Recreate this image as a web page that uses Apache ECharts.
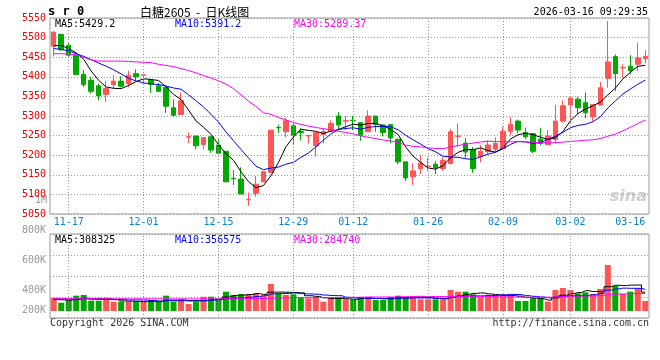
<!DOCTYPE html>
<html><head><meta charset="utf-8">
<script src="https://cdn.jsdelivr.net/npm/echarts@6/dist/echarts.min.js"></script>
<style>html,body{margin:0;padding:0;background:#fff}#c{width:660px;height:360px}</style>
</head><body><div id="c"></div>
<script>
const dates = ['11-13','11-14','11-17','11-18','11-19','11-20','11-21','11-24','11-25','11-26','11-27','11-28',
'12-01','12-02','12-03','12-04','12-05','12-08','12-09','12-10','12-11','12-12','12-15','12-16','12-17','12-18','12-19',
'12-22','12-23','12-24','12-25','12-26','12-29','12-30','12-31','01-05','01-06','01-07','01-08','01-09',
'01-12','01-13','01-14','01-15','01-16','01-19','01-20','01-21','01-22','01-23','01-26','01-27','01-28','01-29','01-30',
'02-02','02-03','02-04','02-05','02-06','02-09','02-10','02-11','02-12','02-13','02-24','02-25','02-26','02-27',
'03-02','03-03','03-04','03-05','03-06','03-09','03-10','03-11','03-12','03-13','03-16'];
const opens  = [5478,5508,5480,5455,5406,5391,5377,5355,5380,5389,5383,5408,5404,5391,5377,5373,5321,5304,5246,5249,
5227,5247,5226,5210,5141,5139,5086,5103,5132,5156,5271,5260,5275,5261,5249,5224,5253,5261,5300,5287,
5289,5283,5260,5300,5277,5278,5241,5183,5145,5166,5171,5177,5166,5179,5248,5231,5214,5196,5209,5215,
5217,5261,5287,5258,5255,5241,5227,5240,5287,5328,5343,5334,5298,5328,5396,5452,5423,5427,5432,5446];
const closes = [5514,5469,5455,5406,5380,5363,5351,5370,5389,5376,5404,5400,5405,5381,5363,5325,5302,5339,5247,5224,
5245,5213,5205,5132,5140,5101,5087,5126,5158,5264,5270,5288,5251,5258,5250,5258,5260,5281,5277,5288,
5288,5251,5300,5278,5258,5244,5183,5142,5160,5180,5172,5168,5187,5260,5249,5208,5166,5210,5226,5230,
5261,5279,5264,5247,5210,5230,5249,5287,5326,5346,5321,5308,5329,5372,5438,5408,5424,5415,5448,5452];
const lows   = [5452,5466,5451,5404,5374,5357,5340,5336,5370,5373,5374,5391,5383,5359,5362,5308,5300,5304,5231,5215,
5215,5206,5205,5132,5124,5101,5071,5094,5132,5156,5257,5245,5226,5238,5230,5197,5230,5261,5264,5264,
5264,5237,5260,5260,5248,5230,5177,5134,5124,5152,5160,5152,5160,5176,5221,5193,5155,5182,5202,5209,
5217,5251,5256,5241,5205,5225,5227,5230,5283,5283,5304,5294,5287,5328,5372,5363,5397,5406,5414,5434];
const highs  = [5516,5510,5486,5458,5418,5400,5383,5389,5404,5401,5415,5419,5407,5395,5385,5376,5343,5360,5258,5249,
5245,5247,5240,5210,5162,5169,5105,5147,5158,5264,5278,5296,5282,5270,5252,5258,5268,5289,5310,5300,
5300,5283,5314,5300,5277,5278,5241,5183,5179,5200,5194,5185,5195,5266,5281,5244,5221,5226,5238,5245,
5273,5298,5291,5270,5255,5270,5264,5329,5340,5346,5349,5360,5329,5387,5542,5457,5432,5455,5487,5468];
const volumes = [220000,137000,182000,253000,264000,170000,170000,182000,154000,154000,154000,154000,154000,182000,154000,
253000,154000,182000,115000,154000,236000,236000,209000,319000,264000,281000,281000,291000,253000,446000,
291000,264000,275000,220000,209000,236000,154000,209000,220000,193000,193000,231000,231000,182000,182000,
231000,253000,231000,231000,193000,193000,193000,193000,347000,319000,319000,275000,231000,264000,264000,
264000,264000,165000,165000,209000,209000,154000,347000,380000,347000,291000,308000,281000,363000,759000,
413000,281000,319000,374000,165000];
// moving-average values before enough history is on screen
const ma5Head  = [5479,5480,5472,5461];
const ma10Head = [5472,5470,5466,5459,5452,5444,5435,5427,5418];
const ma30Head = [5459,5459,5458,5456,5450,5443,5440,5440,5440,5440,5439,5438,5437,5436,5432,5429,5426,5421,5416,5410,
5403,5397,5390,5381,5370,5354,5338,5325,5308];
const vma5Head  = [190000,185000,180000,195000];
const vma10Head = [205000,200000,195000,195000,200000,195000,190000,190000,190000];
const vma30Head = [205000,205000,204000,204000,203000,203000,203000,202000,202000,202000,201000,201000,201000,201000,201000,
200000,200000,200000,200000,200000,201000,201000,202000,203000,204000,205000,206000,207000,208000];
const labelDates = ['11-17','12-01','12-15','12-29','01-12','01-26','02-09','03-02','03-16'];
const gridDates  = ['11-17','12-01','12-15','12-29','01-12','01-26','02-09','03-02'];
const priceMin = 5050, priceMax = 5550, priceStep = 50;
const volTicks = [200000,400000,600000,800000];
const priceLegend = [['MA5:5429.2','#000000'],['MA10:5391.2','#0000ff'],['MA30:5289.37','#ff00ff']];
const volLegend   = [['MA5:308325','#000000'],['MA10:356575','#0000ff'],['MA30:284740','#ff00ff']];

const UP = '#ff5555', DOWN = '#00a800';
const MONO = '"DejaVu Sans Mono", "Liberation Mono", monospace';

function movingAvg(vals, n, head) {
  return vals.map((v, i) => {
    if (i < n - 1) return head[i];
    let s = 0; for (let k = i - n + 1; k <= i; k++) s += vals[k];
    return +(s / n).toFixed(2);
  });
}
const kData = dates.map((d, i) => [opens[i], closes[i], lows[i], highs[i]]);
const isUp = closes.map((c, i) => c > opens[i] || (c === opens[i] && (i === 0 || closes[i-1] <= c)));
const volData = volumes.map((v, i) => ({value: v, itemStyle: {color: isUp[i] ? UP : DOWN}}));
const labelSet = new Set(labelDates.map(d => dates.indexOf(d)));

const dotted = {color: '#999', width: 1, type: [1, 2]};
const vLines = gridDates.map(d => ({xAxis: d}));
const mkLine = {silent: true, symbol: 'none', label: {show: false}, lineStyle: dotted, data: vLines, animation: false};

const graphics = [];
graphics.push({type:'text', x:48, y:12, style:{text:'s r 0', font:'bold 12px ' + MONO, fill:'#000', textVerticalAlign:'middle'}});
graphics.push({type:'text', x:140, y:12, style:{text:'白糖2605  -  日K线图', font:'12px "Noto Sans CJK SC"', fill:'#000', textVerticalAlign:'middle'}});
graphics.push({type:'text', x:648, y:12, style:{text:'2026-03-16 09:29:35', font:'10px ' + MONO, fill:'#000', textAlign:'right', textVerticalAlign:'middle'}});
const legX = [55, 175, 294];
priceLegend.forEach((l, i) => graphics.push({type:'text', x:legX[i], y:24, style:{text:l[0], font:'10px ' + MONO, fill:l[1], textVerticalAlign:'middle'}}));
volLegend.forEach((l, i) => graphics.push({type:'text', x:legX[i], y:240, style:{text:l[0], font:'10px ' + MONO, fill:l[1], textVerticalAlign:'middle'}}));
graphics.push({type:'text', x:47, y:200, style:{text:'1M', font:'10px ' + MONO, fill:'#999', textAlign:'right', textVerticalAlign:'middle'}});
graphics.push({type:'text', x:50, y:323, style:{text:'Copyright 2026 SINA.COM', font:'10px ' + MONO, fill:'#333', textVerticalAlign:'middle'}});
graphics.push({type:'text', x:649, y:323, style:{text:'http://finance.sina.com.cn', font:'10px ' + MONO, fill:'#333', textAlign:'right', textVerticalAlign:'middle'}});
graphics.push({type:'text', x:647, y:197, style:{text:'sina', font:'italic bold 16px "DejaVu Sans"', fill:'#cfcfcf', textAlign:'right', textVerticalAlign:'middle'}});

const chart = echarts.init(document.getElementById('c'), null, {renderer: 'canvas'});
chart.setOption({
  animation: false,
  backgroundColor: '#fff',
  grid: [
    {left: 50, right: 11, top: 18, height: 196, show: true, borderColor: '#999', borderWidth: 1},
    {left: 50, right: 11, top: 234, height: 84, show: true, borderColor: '#999', borderWidth: 1},
    {left: 50, right: 11, top: 230.7, height: 90, show: false}
  ],
  xAxis: [
    {type:'category', gridIndex:0, data:dates, boundaryGap:true,
     axisLine:{show:false}, axisTick:{show:false}, splitLine:{show:false},
     axisLabel:{interval:(i) => labelSet.has(i), color:'#0a82d2', fontFamily: MONO, fontSize:10, margin:3, alignMaxLabel:'right'}},
    {type:'category', gridIndex:1, data:dates, boundaryGap:true,
     axisLine:{show:false}, axisTick:{show:false}, axisLabel:{show:false}, splitLine:{show:false}},
    {type:'value', gridIndex:2, min:0, max:1, show:false}
  ],
  yAxis: [
    {type:'value', gridIndex:0, min:priceMin, max:priceMax, interval:priceStep, position:'left',
     axisLine:{show:false}, axisTick:{show:false},
     axisLabel:{color:'#ee0000', fontFamily:MONO, fontSize:10, margin:4, showMinLabel:true, showMaxLabel:true,
       formatter:(v) => String(v)},
     splitLine:{show:true, lineStyle:dotted}},
    {type:'value', gridIndex:1, min:-115500, max:1270500, show:false, splitLine:{show:false}},
    {type:'value', gridIndex:1, min:0, max:4, interval:1, axisLine:{show:false}, axisTick:{show:false},
     axisLabel:{show:false}, splitLine:{show:true, lineStyle:dotted}},
    {type:'value', gridIndex:2, min:200000, max:800000, interval:200000, position:'left',
     axisLine:{show:false}, axisTick:{show:false}, splitLine:{show:false},
     axisLabel:{color:'#999', fontFamily:MONO, fontSize:10, margin:4,
       formatter:(v) => volTicks.includes(v) ? (v === volTicks[0] ? '{s|' + (v/1000) + 'K}' : (v/1000) + 'K') : '',
       rich:{s:{color:'#999', fontFamily:MONO, fontSize:10, padding:[0,0,21,0]}}}}
  ],
  series: [
    {type:'candlestick', xAxisIndex:0, yAxisIndex:0, data:kData, barWidth:5,
     itemStyle:{color:UP, color0:DOWN, borderColor:UP, borderColor0:DOWN, borderWidth:1},
     markLine: mkLine},
    {type:'line', xAxisIndex:0, yAxisIndex:0, data:movingAvg(closes,5,ma5Head), showSymbol:false, symbol:'none', lineStyle:{color:'#000', width:1}},
    {type:'line', xAxisIndex:0, yAxisIndex:0, data:movingAvg(closes,10,ma10Head), showSymbol:false, symbol:'none', lineStyle:{color:'#0000ff', width:1}},
    {type:'line', xAxisIndex:0, yAxisIndex:0, data:movingAvg(closes,30,ma30Head), showSymbol:false, symbol:'none', lineStyle:{color:'#ff00ff', width:1}},
    {type:'bar', xAxisIndex:1, yAxisIndex:1, data:volData, barWidth:6, markLine: mkLine},
    {type:'line', xAxisIndex:1, yAxisIndex:1, data:movingAvg(volumes,5,vma5Head), step:'middle', showSymbol:false, symbol:'none', lineStyle:{color:'#000', width:1}},
    {type:'line', xAxisIndex:1, yAxisIndex:1, data:movingAvg(volumes,10,vma10Head), step:'middle', showSymbol:false, symbol:'none', lineStyle:{color:'#0000ff', width:1}},
    {type:'line', xAxisIndex:1, yAxisIndex:1, data:movingAvg(volumes,30,vma30Head), step:'middle', showSymbol:false, symbol:'none', lineStyle:{color:'#ff00ff', width:1}}
  ],
  graphic: graphics
});
</script></body></html>
